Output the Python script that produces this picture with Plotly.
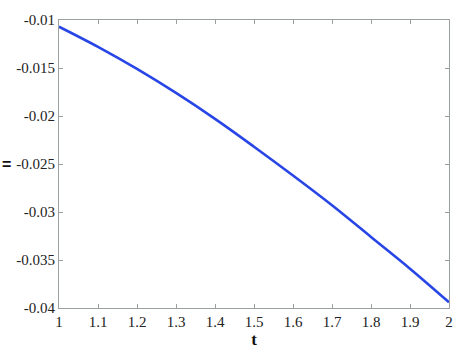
import plotly.graph_objects as go

t = [1.0, 1.1, 1.2, 1.3, 1.4, 1.5, 1.6, 1.7, 1.8, 1.9, 2.0]
r = [-0.0107, -0.0128, -0.0151, -0.0176, -0.0203, -0.0232, -0.0262, -0.0293, -0.0326, -0.0359, -0.0394]

x_ticks = [1.0, 1.1, 1.2, 1.3, 1.4, 1.5, 1.6, 1.7, 1.8, 1.9, 2.0]
x_labels = ["1", "1.1", "1.2", "1.3", "1.4", "1.5", "1.6", "1.7", "1.8", "1.9", "2"]
y_ticks = [-0.04, -0.035, -0.03, -0.025, -0.02, -0.015, -0.01]
y_labels = ["-0.04", "-0.035", "-0.03", "-0.025", "-0.02", "-0.015", "-0.01"]

W, H = 467, 356
ml, mr, mt, mb = 59, 18, 13, 48
pw = W - ml - mr
SERIF = "'Liberation Serif', 'DejaVu Serif', serif"

fig = go.Figure()
fig.add_trace(go.Scatter(x=t, y=r, mode="lines", line=dict(color="#2846e6", width=2.6, shape="spline")))

axis_common = dict(showgrid=False, zeroline=False, showline=True, linecolor="#9aa0a0", linewidth=1,
                   mirror="ticks", ticks="inside", ticklen=4, tickcolor="#9aa0a0",
                   tickfont=dict(family=SERIF, size=15, color="#222"))
fig.update_xaxes(range=[1, 2], tickvals=x_ticks, ticktext=x_labels,
                 title=dict(text="<b>t</b>", font=dict(family=SERIF, size=17, color="#111"), standoff=2),
                 **axis_common)
fig.update_yaxes(range=[-0.04, -0.01], tickvals=y_ticks, ticktext=y_labels, **axis_common)

fig.add_annotation(text="<b>=</b>", xref="paper", yref="paper", x=-ml / pw, y=0.5, xanchor="left", yanchor="middle",
                   showarrow=False, font=dict(family="Liberation Sans", size=16, color="#111"))

fig.update_layout(width=W, height=H, margin=dict(l=ml, r=mr, t=mt, b=mb),
                  font=dict(family=SERIF),
                  paper_bgcolor="white", plot_bgcolor="white", showlegend=False)
fig.write_html("out.html")
